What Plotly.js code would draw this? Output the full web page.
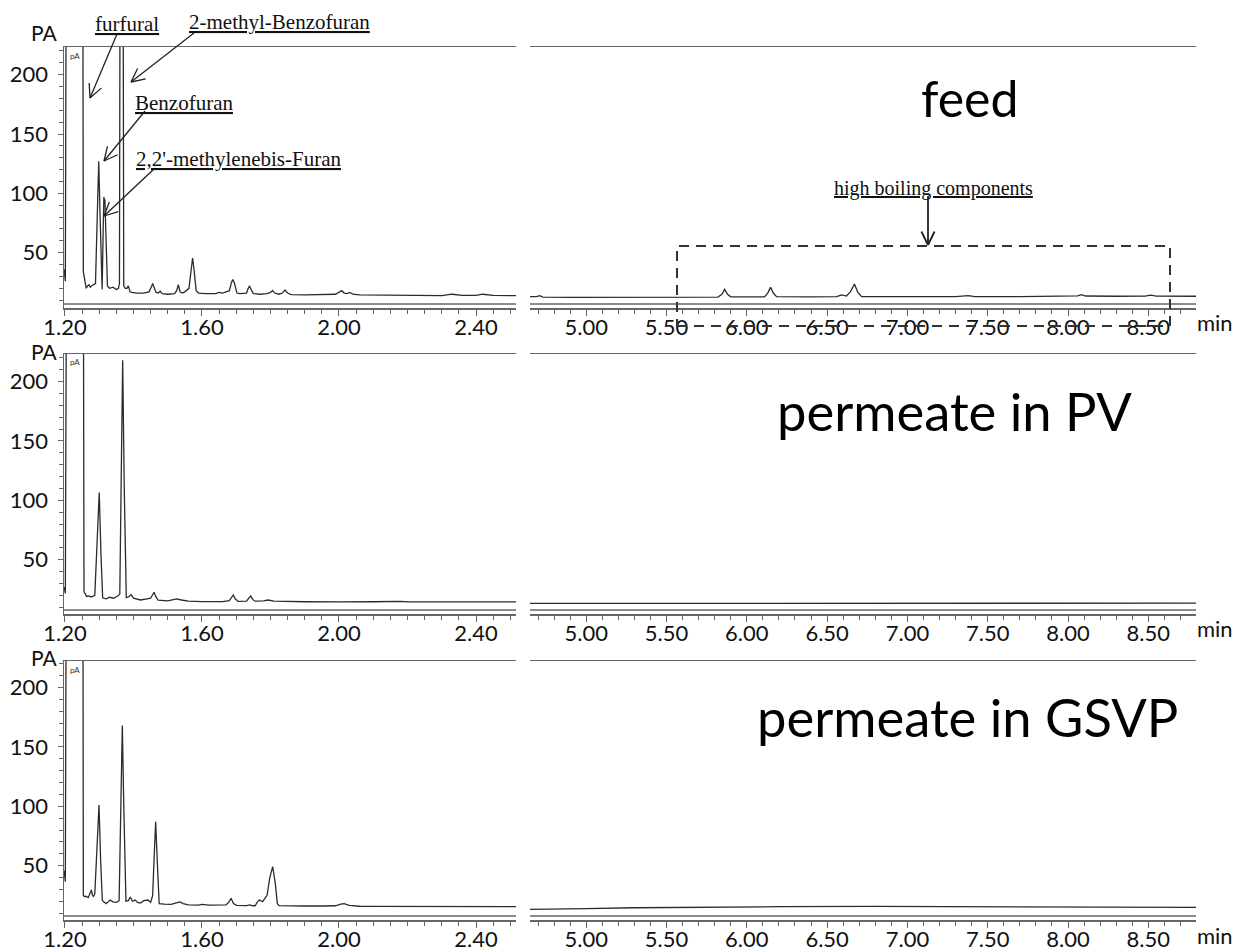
<!DOCTYPE html>
<html><head><meta charset="utf-8">
<script src="https://cdn.plot.ly/plotly-3.0.1.min.js"></script>
<style>html,body{margin:0;padding:0;background:#fff;}#chart{width:1234px;height:951px;}</style>
</head><body><div id="chart"></div>
<script>
// ---------------- data (time in min, signal in pA) ----------------
const panelTitles = ['feed', 'permeate in PV', 'permeate in GSVP'];
const compoundLabels = ['furfural', '2-methyl-Benzofuran', 'Benzofuran', "2,2'-methylenebis-Furan"];
const highBoilingLabel = 'high boiling components';
const leftTicks = [1.20, 1.60, 2.00, 2.40];
const rightTicks = [5.00, 5.50, 6.00, 6.50, 7.00, 7.50, 8.00, 8.50];
const yTicks = [50, 100, 150, 200];

const feedLeftT = [1.1975,1.2010,1.2045,1.2515,1.2535,1.2560,1.2590,1.2620,1.2660,1.2700,1.2740,1.2775,1.2890,1.2940,1.2985,1.3030,1.3085,1.3115,1.3135,1.3150,1.3165,1.3200,1.3240,1.3300,1.3400,1.3500,1.3560,1.3590,1.3615,1.3690,1.3715,1.3760,1.3810,1.3850,1.3900,1.3950,1.4100,1.4300,1.4450,1.4520,1.4560,1.4610,1.4660,1.4720,1.4780,1.4840,1.5000,1.5200,1.5260,1.5310,1.5360,1.5430,1.5500,1.5620,1.5680,1.5725,1.5770,1.5830,1.5900,1.6100,1.6400,1.6500,1.6600,1.6800,1.6860,1.6900,1.6950,1.7020,1.7100,1.7300,1.7350,1.7390,1.7450,1.7500,1.7700,1.7900,1.8000,1.8060,1.8120,1.8250,1.8350,1.8420,1.8500,1.8600,1.9000,1.9500,1.9900,2.0020,2.0080,2.0150,2.0230,2.0320,2.0400,2.0600,2.1000,2.1500,2.2000,2.2500,2.3000,2.3300,2.3600,2.4000,2.4200,2.4500,2.4900,2.5100,2.5168];
const feedLeftV = [36,26,400,400,34,29,24,20,22,23,21,22,24,80,127,75,19,70,97,93,95,55,22,20,21,19,20,24,400,400,22,20,20,22,17,16.5,16,16,17,21,24,20,16.5,16,17.5,15.5,15,15.5,18,23,17,16,17,20,35,45.5,35,18,16,15.5,15.5,16.5,16,18,25,27.5,24,16,15.5,16,20,22,18,15.5,15,15.5,16.5,18.2,16,15,16,18.5,16,14.7,14.5,14.5,15,17,18,16,15.5,16.5,15,14.5,14.3,14,14.2,13.8,13.9,15,14,14,15,14,14,14.3,13.8];
const feedRightT = [4.650,4.690,4.711,4.730,4.900,5.200,5.500,5.820,5.845,5.862,5.880,5.900,6.000,6.110,6.130,6.148,6.165,6.185,6.400,6.560,6.590,6.620,6.645,6.670,6.690,6.715,6.800,7.000,7.300,7.379,7.420,7.700,8.000,8.060,8.084,8.110,8.300,8.480,8.515,8.550,8.797];
const feedRightV = [12.9,12.9,13.8,12.6,12.3,12.4,12.5,12.6,15,19.1,15,12.8,12.7,12.8,16,20.8,16,12.9,12.8,13,14.5,13.5,17,23.6,17,13,12.9,12.8,12.9,13.9,12.9,13,13.1,13.6,14.7,13.5,13.3,13.4,14.2,13.4,13.3];

const pvLeftT = [1.1975,1.2010,1.2055,1.2530,1.2555,1.2585,1.2630,1.2700,1.2760,1.2870,1.2930,1.3000,1.3050,1.3100,1.3200,1.3300,1.3420,1.3550,1.3600,1.3640,1.3684,1.3730,1.3790,1.3850,1.3930,1.4000,1.4200,1.4400,1.4500,1.4550,1.4600,1.4650,1.4720,1.5000,1.5200,1.5260,1.5400,1.5600,1.6000,1.6600,1.6800,1.6870,1.6914,1.6970,1.7050,1.7300,1.7370,1.7420,1.7480,1.7550,1.7800,1.7930,1.8100,1.8500,1.9000,2.0000,2.0300,2.1000,2.1800,2.2000,2.3000,2.4000,2.5168];
const pvLeftV = [27,21.6,400,400,23,21.6,19,19.5,18.5,20,60,106.5,55,17.8,17,18.3,17.5,19.5,21,120,218,110,18,18.5,20.5,17.5,16,17,17.5,20,22.5,19,15.8,15.2,16.5,17,16,15,14.7,14.7,15.5,18.5,20.2,17,14.8,15,17.5,19.4,16.5,15,15.2,16,15,14.5,14.5,14.4,14.6,14.5,14.8,14.4,14.4,14.6,14.4];
const pvRightT = [4.650,4.800,4.840,4.880,6.080,6.125,6.170,7.680,7.730,7.780,8.797];
const pvRightV = [13.2,13.2,13.7,13.2,13.2,13.6,13.2,13.3,13.6,13.3,13.3];

const gsvpLeftT = [1.1975,1.2010,1.2045,1.2520,1.2535,1.2565,1.2620,1.2680,1.2720,1.2770,1.2800,1.2830,1.2870,1.2930,1.2993,1.3040,1.3090,1.3200,1.3250,1.3320,1.3400,1.3500,1.3580,1.3630,1.3674,1.3720,1.3780,1.3850,1.3906,1.3970,1.4050,1.4120,1.4200,1.4300,1.4424,1.4500,1.4560,1.4600,1.4647,1.4700,1.4750,1.4900,1.5100,1.5300,1.5358,1.5450,1.5600,1.5900,1.6000,1.6200,1.6500,1.6700,1.6780,1.6847,1.6920,1.7010,1.7300,1.7400,1.7480,1.7550,1.7620,1.7674,1.7771,1.7850,1.7900,1.7980,1.8064,1.8140,1.8200,1.8250,1.8500,1.9000,1.9500,1.9900,2.0050,2.0150,2.0300,2.0600,2.1000,2.2000,2.3000,2.3500,2.4000,2.5168];
const gsvpLeftV = [46,36.5,400,400,25.3,24,24,23,26,29.5,25,24,26,60,101,55,20.5,18,19,21,19.5,19,20.5,100,168,95,20,20.5,23.6,20,21,19,18.5,20.5,21,19,25,55,87,50,18,17.5,17.3,19,19.5,18,17,16.8,17.3,16.8,16.8,17,19,22.5,18,16.5,16.3,17,16.2,16.2,19.5,21,19.6,23,25,40,49.2,35,18,16.3,16,16,16,16.2,17.5,18,16.5,15.8,15.6,15.6,15.4,16,15.4,15.5];
const gsvpRightT = [4.650,4.900,5.000,5.300,5.700,6.200,6.800,7.400,8.000,8.797];
const gsvpRightV = [13.2,13.4,13.8,14.5,15.1,15.4,15.6,15.4,15.1,14.9];

// ---------------- layout geometry ----------------
const W = 1234, H = 951;
const colPx = [[64, 516], [530, 1196]];
const xRanges = [[1.1971, 2.5168], [4.650, 8.797]];
const rows = [
  {top: 47,  bot: 308, yr: [3.4, 223.3]},
  {top: 354, bot: 614, yr: [4.2, 223.2]},
  {top: 661, bot: 920, yr: [4.2, 222.4]}
];
const series = [
  [[feedLeftT, feedLeftV], [feedRightT, feedRightV]],
  [[pvLeftT, pvLeftV], [pvRightT, pvRightV]],
  [[gsvpLeftT, gsvpLeftV], [gsvpRightT, gsvpRightV]]
];
const PX = x => x / W, PY = y => 1 - y / H;
const lineCol = '#666', traceCol = '#2b2b2b';
const tickFont = {family: 'Lato, "Open Sans", sans-serif', size: 22, color: '#111'};

const traces = [], layout = {
  width: W, height: H, margin: {l: 0, r: 0, t: 0, b: 0},
  paper_bgcolor: '#fff', plot_bgcolor: '#fff', showlegend: false,
  shapes: [], annotations: []
};

rows.forEach((row, r) => {
  [0, 1].forEach(c => {
    const n = 2 * r + c + 1;
    const xa = 'xaxis' + (n === 1 ? '' : n), ya = 'yaxis' + (n === 1 ? '' : n);
    const xid = 'x' + (n === 1 ? '' : n), yid = 'y' + (n === 1 ? '' : n);
    const [t, v] = series[r][c];
    traces.push({x: t, y: v, xaxis: xid, yaxis: yid, type: 'scatter', mode: 'lines',
      line: {color: traceCol, width: 1.3}, hoverinfo: 'skip'});
    const ticks = c === 0 ? leftTicks : rightTicks;
    layout[xa] = {
      domain: [PX(colPx[c][0]), PX(colPx[c][1])], range: xRanges[c], anchor: yid,
      showline: true, mirror: true, linecolor: lineCol, linewidth: 1.5,
      ticks: 'outside', ticklen: 6, tickwidth: 1, tickcolor: lineCol,
      tickmode: 'array', tickvals: ticks, ticktext: ticks.map(d => d.toFixed(2)),
      tickfont: tickFont, showgrid: false, zeroline: false, ticklabelstandoff: -7,
      minor: {ticks: 'outside', ticklen: 4, tickwidth: 1, tickcolor: lineCol,
        tickmode: 'linear', tick0: c === 0 ? 1.2 : 5.0, dtick: c === 0 ? 0.05 : 0.1, showgrid: false},
      fixedrange: true
    };
    layout[ya] = {
      domain: [PY(row.bot), PY(row.top)], range: row.yr, anchor: xid,
      showgrid: false, zeroline: false, fixedrange: true
    };
    if (c === 0) {
      Object.assign(layout[ya], {
        showline: true, linecolor: lineCol, linewidth: 1.5,
        ticks: 'outside', ticklen: 5, tickwidth: 1, tickcolor: lineCol,
        tickmode: 'array', tickvals: yTicks, ticktext: yTicks.map(String),
        tickfont: tickFont, ticklabelstandoff: 5,
        minor: {ticks: 'outside', ticklen: 4, tickwidth: 1, tickcolor: lineCol,
          tickmode: 'linear', tick0: 0, dtick: 10}
      });
    } else {
      Object.assign(layout[ya], {showline: false, showticklabels: false, ticks: ''});
    }
    // second (upper) baseline of the double bottom line
    layout.shapes.push({type: 'line', xref: 'paper', yref: 'paper',
      x0: PX(colPx[c][0]), x1: PX(colPx[c][1]), y0: PY(row.bot - 4), y1: PY(row.bot - 4),
      line: {color: lineCol, width: 1.3}});
  });
});

// text labels
const ann = (text, cx, cy, font, extra) => layout.annotations.push(Object.assign({
  text, x: PX(cx), y: PY(cy), xref: 'paper', yref: 'paper', showarrow: false,
  xanchor: 'center', yanchor: 'middle', font}, extra || {}));
const bigFont = {family: 'Lato, "Open Sans", sans-serif', size: 50, color: '#000'};
const bigFont2 = Object.assign({}, bigFont, {size: 52.5});
ann(panelTitles[0], 970, 98, bigFont);
ann(panelTitles[1], 954, 410, bigFont2);
ann(panelTitles[2], 967, 716, bigFont2);
const paFont = {family: 'Lato, sans-serif', size: 21, color: '#111'};
[32, 351.5, 657].forEach(y => ann('PA', 45, y, paFont));
const smallFont = {family: 'Lato, sans-serif', size: 8, color: '#333'};
[56, 362, 670].forEach(y => ann('pA', 75, y, smallFont));
[322, 628, 935].forEach(y => ann('min', 1215, y, tickFont));

const serif = {family: '"Liberation Serif", "Times New Roman", serif', size: 21, color: '#111', lineposition: 'under'};
ann(compoundLabels[0], 126.5, 24.5, serif);
ann(compoundLabels[1], 279.5, 22.5, serif);
ann(compoundLabels[2], 184, 103, serif);
ann(compoundLabels[3], 238.5, 159, serif);
ann(highBoilingLabel, 933, 188, Object.assign({}, serif, {size: 20}));

// arrows with open V heads (pixel geometry)
function seg(xa, ya, xb, yb, w) {
  return {type: 'line', xref: 'paper', yref: 'paper', x0: PX(xa), y0: PY(ya), x1: PX(xb), y1: PY(yb),
    line: {color: '#222', width: w || 1.3}};
}
function arrow(x0, y0, x1, y1, w) {
  const len = 15, ang = 26 * Math.PI / 180;
  const dx = x1 - x0, dy = y1 - y0, L = Math.hypot(dx, dy), bx = -dx / L, by = -dy / L;
  layout.shapes.push(seg(x0, y0, x1, y1, w));
  [1, -1].forEach(s => {
    const co = Math.cos(s * ang), sn = Math.sin(s * ang);
    const rx = bx * co - by * sn, ry = bx * sn + by * co;
    layout.shapes.push(seg(x1, y1, x1 + rx * len, y1 + ry * len, w));
  });
}
arrow(117, 34, 90, 98);
arrow(194, 33, 131, 82);
arrow(145, 111, 104, 161);
arrow(155, 168, 104, 216);
arrow(928, 196, 928, 245, 1.8);
// dashed box around high boiling region
layout.shapes.push({type: 'rect', xref: 'paper', yref: 'paper',
  x0: PX(677), x1: PX(1170), y0: PY(326), y1: PY(246),
  line: {color: '#333', width: 2, dash: '10px,7px'}, fillcolor: 'rgba(0,0,0,0)'});

Plotly.newPlot('chart', traces, layout, {displayModeBar: false, staticPlot: true});
</script></body></html>
